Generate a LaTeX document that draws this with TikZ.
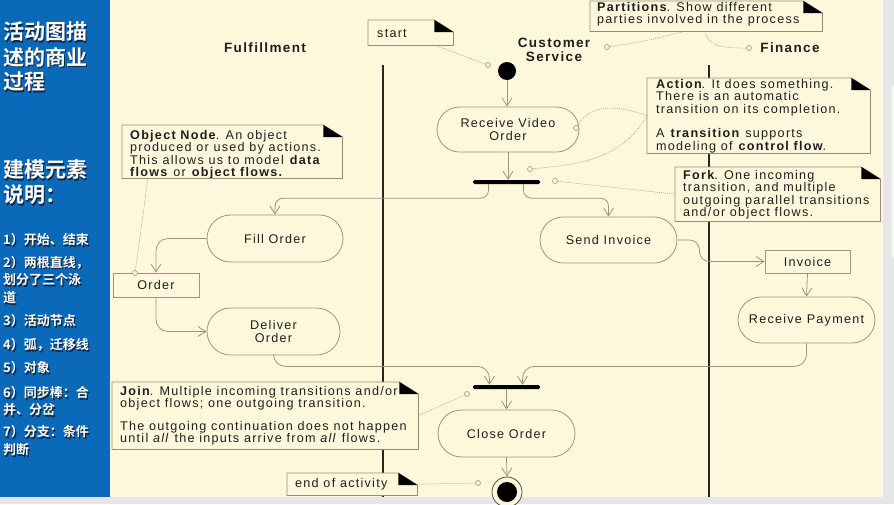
\documentclass[tikz,border=0pt]{standalone}
\usepackage{fontspec}
\setmainfont{Liberation Sans}
\newfontfamily\uml{Liberation Sans}[LetterSpace=10]
\newfontfamily\cjk{Noto Sans CJK SC}[BoldFont={Noto Sans CJK SC Bold}]
\usetikzlibrary{arrows.meta,shapes.misc,calc}
\definecolor{cream}{HTML}{FDF8DC}
\definecolor{panelblue}{HTML}{0A69B8}
\definecolor{stripgray}{HTML}{E6E6EA}
\definecolor{edgec}{HTML}{A89080}
\definecolor{notec}{HTML}{9A8A7A}
\definecolor{inkc}{HTML}{1E1E1E}
\definecolor{shadowc}{HTML}{14263C}
\newcommand\umlnote[1]{%
  \draw[draw=notec,line width=0.8pt] (#1.south west) -- (#1.north west) -- ([xshift=-19pt]#1.north east) -- ([yshift=-12pt]#1.north east) -- (#1.south east) -- cycle;
  \fill[black] ([xshift=-19pt]#1.north east) -- ([xshift=-19pt,yshift=-12pt]#1.north east) -- ([yshift=-12pt]#1.north east) -- cycle;}
\newcommand\bluetext[4]{%
  \node[anchor=west, inner sep=0, text=shadowc, font=\cjk\bfseries\fontsize{#3}{#3}\selectfont] (#1s) at (4.3,#2+1.3) {#4};
  \node[anchor=west, inner sep=0, text=white, font=\cjk\bfseries\fontsize{#3}{#3}\selectfont] (#1) at (3,#2) {#4};}
\begin{document}
\begin{tikzpicture}[x=1pt,y=-1pt,
  act/.style={rounded rectangle, draw=edgec, line width=0.8pt, fill=cream, font=\uml\fontsize{12.6}{12.8}\selectfont, text=inkc, align=center, inner sep=0pt},
  obj/.style={rectangle, draw=edgec, line width=0.8pt, fill=cream, font=\uml\fontsize{12.6}{12.8}\selectfont, text=inkc, inner sep=0pt},
  flow/.style={draw=edgec, line width=0.8pt, -{Straight Barb[length=8pt,width=10pt,line width=0.8pt]}},
  anno/.style={draw=edgec, line width=0.5pt, dash pattern=on 1pt off 1pt},
  pinc/.style={circle, draw=edgec, line width=0.6pt, fill=cream, inner sep=0pt, minimum size=5pt},
  notebox/.style={rectangle, inner sep=0pt, fill=cream, anchor=north west},
  notetext/.style={inner sep=0pt, anchor=north west, align=left, font=\uml\fontsize{12.6}{12.4}\selectfont, text=inkc},
  syncbar/.style={rectangle, fill=black, inner sep=0pt, minimum height=4pt, minimum width=67pt, rounded corners=1.5pt},
  lane/.style={draw=black!85, line width=1.2pt},
  lanelabel/.style={font=\uml\bfseries\fontsize{13.5}{14}\selectfont, text=inkc, align=center, inner sep=0pt}]
\useasboundingbox (0,0) rectangle (894,504);
% background
\fill[stripgray] (0,0) rectangle (894,504);
\fill[cream] (110,0) rectangle (883,497);
\fill[panelblue] (0,0) rectangle (110,497);
\draw[black!10, fill=white!92!gray, rounded corners=2pt] (891,85) rectangle (900,258);
% left panel text
\bluetext{t1}{32}{21}{活动图描}
\bluetext{t2}{57}{21}{述的商业}
\bluetext{t3}{82}{21}{过程}
\bluetext{t4}{170}{21}{建模元素}
\bluetext{t5}{195}{21}{说明：}
\bluetext{l1}{240}{13}{1）开始、结束}
\bluetext{l2}{263}{13}{2）两根直线，}
\bluetext{l3}{280}{13}{划分了三个泳}
\bluetext{l4}{298}{13}{道}
\bluetext{l5}{321}{13}{3）活动节点}
\bluetext{l6}{345}{13}{4）弧，迁移线}
\bluetext{l7}{368}{13}{5）对象}
\bluetext{l8}{393}{13}{6）同步棒：合}
\bluetext{l9}{410}{13}{并、分岔}
\bluetext{l10}{432}{13}{7）分支：条件}
\bluetext{l11}{450}{13}{判断}
% swimlanes
\coordinate (la1) at (383,65); \coordinate (la2) at (383,497);
\coordinate (lb1) at (709,65); \coordinate (lb2) at (709,497);
\draw[lane] (la1) -- (la2);
\draw[lane] (lb1) -- (lb2);
\node[lanelabel] (lfull) at (265,48) {Fulfillment};
\node[lanelabel] (lcs) at (554,50) {Customer\\Service};
\node[lanelabel] (lfin) at (790,48) {Finance};
% notes
\node[notebox, minimum width=85pt, minimum height=25pt] (startn) at (368,20) {};
\node[notetext, anchor=west] (startt) at (377,33) {start};
\node[notebox, minimum width=232pt, minimum height=30pt] (partn) at (590,1) {};
\node[notetext] (partt) at (597,2) {\textbf{Partitions}. Show different\\parties involved in the process};
\node[notebox, minimum width=223pt, minimum height=75pt] (actn) at (647,78) {};
\node[notetext] (actt) at (656,79) {\textbf{Action}. It does something.\\There is an automatic\\transition on its completion.\\[12.4pt] A \textbf{transition} supports\\modeling of \textbf{control flow}.};
\node[notebox, minimum width=205pt, minimum height=54pt] (forkn) at (675,167) {};
\node[notetext] (forkt) at (683,170) {\textbf{Fork}. One incoming\\transition, and multiple\\outgoing parallel transitions\\and/or object flows.};
\node[notebox, minimum width=220pt, minimum height=53pt] (objn) at (122,125) {};
\node[notetext] (objt) at (130,130) {\textbf{Object Node}. An object\\produced or used by actions.\\This allows us to model \textbf{data}\\\textbf{flows} or \textbf{object flows.}};
\node[notebox, minimum width=306pt, minimum height=67pt] (joinn) at (112,382) {};
\node[notetext] (joint) at (120,386) {\textbf{Join}. Multiple incoming transitions and/or\\object flows; one outgoing transition.\\[10pt]The outgoing continuation does not happen\\until \textit{all} the inputs arrive from \textit{all} flows.};
\node[notebox, minimum width=130pt, minimum height=22pt] (endn) at (287,473) {};
\node[notetext, anchor=west] (endt) at (295,484) {end of activity};
\umlnote{startn}\umlnote{partn}\umlnote{actn}\umlnote{forkn}\umlnote{objn}\umlnote{joinn}\umlnote{endn}
% activity nodes
\node[circle, fill=black, inner sep=0pt, minimum size=18pt] (init) at (507,71) {};
\node[act, minimum width=142pt, minimum height=45pt] (recv) at (508,129.5) {Receive Video\\Order};
\node[syncbar] (fork) at (506.5,182) {};
\node[act, minimum width=136pt, minimum height=47pt] (fill) at (275,238.5) {Fill Order};
\node[act, minimum width=137pt, minimum height=46pt] (send) at (608.5,240) {Send Invoice};
\node[obj, minimum width=86pt, minimum height=24pt] (order) at (156,285) {Order};
\node[obj, minimum width=85pt, minimum height=23pt] (inv) at (807.5,261.5) {Invoice};
\node[act, minimum width=133pt, minimum height=47pt] (deliv) at (273.5,331.5) {Deliver\\Order};
\node[act, minimum width=137pt, minimum height=46pt] (pay) at (806.5,320) {Receive Payment};
\node[syncbar] (join) at (506.5,387) {};
\node[act, minimum width=137pt, minimum height=47pt] (close) at (506.5,433.5) {Close Order};
\node[circle, draw=black!70, line width=0.8pt, fill=cream, inner sep=0pt, minimum size=30pt] (final) at (507,492) {};
\node[circle, fill=black, inner sep=0pt, minimum size=20pt] (finalin) at (507,492) {};
% flows
\draw[flow] (init.south) -- (init.south |- recv.north);
\draw[flow] (recv.south) -- (recv.south |- fork.north);
\draw[flow, rounded corners=8pt] ([xshift=-18pt]fork.south) -- ++(0,14) -| (fill.north);
\draw[flow, rounded corners=8pt] ([xshift=17pt]fork.south) -- ++(0,14) -| (send.north);
\draw[flow, rounded corners=12pt] (fill.west) -| (order.north);
\draw[flow, rounded corners=12pt] (order.south) |- (deliv.west);
\draw[flow, rounded corners=10pt] (send.east) -- ++(22,0) |- (inv.west);
\draw[flow] (inv.south) -- (pay.north);
\draw[flow, rounded corners=12pt] (deliv.south) -- ++(0,11) -| ([xshift=-17pt]join.north);
\draw[flow, rounded corners=12pt] (pay.south) -- ++(0,23) -| ([xshift=16pt]join.north);
\draw[flow] (join.south) -- (join.south |- close.north);
\draw[flow] (close.south) -- (final.north);
% annotation pins
\node[pinc] (pst) at (488,65) {};
\node[pinc] (pcs) at (607,47) {};
\node[pinc] (pfin) at (749,48) {};
\node[pinc] (a1) at (576,128) {};
\node[pinc] (a2) at (530,169) {};
\node[pinc] (f1) at (555,181) {};
\node[pinc] (o1) at (135,273) {};
\node[pinc] (j1) at (467,394) {};
\node[pinc] (e1) at (478,483) {};
\draw[anno] ([xshift=-18pt]startn.south east) -- (pst);
\draw[anno] (pcs) to[out=8,in=195] ([xshift=94pt]partn.south west);
\draw[anno] ([xshift=115pt]partn.south west) to[out=-80,in=180] (pfin);
\draw[anno] (a1) to[out=60,in=160] (actn.west);
\draw[anno] (a2) to[out=5,in=240] (actn.west);
\draw[anno] (f1) -- (forkn.west);
\draw[anno] ([xshift=26pt]objn.south west) -- (o1);
\draw[anno] (joinn.east) -- (j1);
\draw[anno] (endn.east) -- (e1);
\end{tikzpicture}
\end{document}
